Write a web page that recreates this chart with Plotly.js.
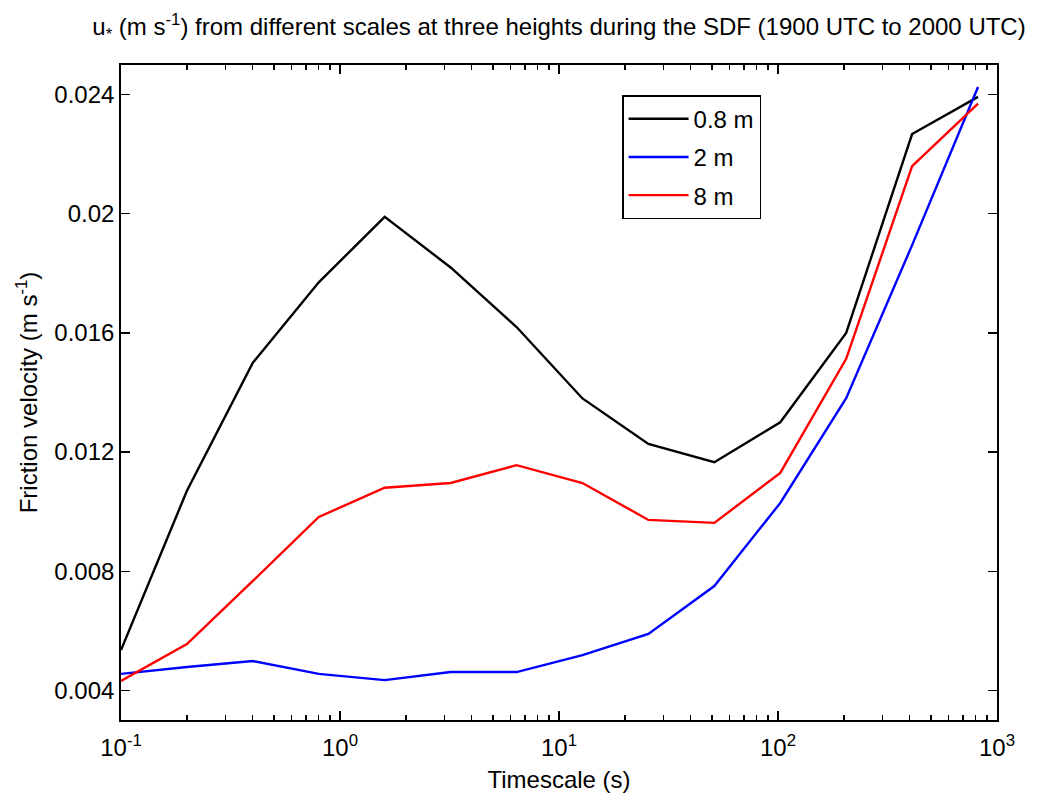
<!DOCTYPE html>
<html>
<head>
<meta charset="utf-8">
<script src="https://cdn.plot.ly/plotly-3.0.1.min.js"></script>
<style>html,body{margin:0;padding:0;background:#fff;}#chart{width:1038px;height:800px;}</style>
</head>
<body>
<div id="chart"></div>
<script>
// Timescales (s)
var timescale = [0.1, 0.2, 0.4, 0.8, 1.6, 3.2, 6.4, 12.8, 25.6, 51.2, 102.4, 204.8, 409.6, 819.2];
// Friction velocity (m s^-1) at three heights
var ustar_08m = [0.00535, 0.0107, 0.0150, 0.0177, 0.0199, 0.0182, 0.0162, 0.0138, 0.01227, 0.01166, 0.0130, 0.0160, 0.02268, 0.02393];
var ustar_2m  = [0.00455, 0.00478, 0.00498, 0.00455, 0.00434, 0.00461, 0.00461, 0.00518, 0.00589, 0.0075, 0.01029, 0.01381, 0.01895, 0.02426];
var ustar_8m  = [0.00431, 0.00555, 0.00767, 0.00982, 0.0108, 0.01096, 0.01156, 0.01096, 0.00972, 0.00962, 0.0113, 0.01513, 0.0216, 0.0237];
var seriesNames = ['0.8 m', '2 m', '8 m'];
var seriesColors = ['#000000', '#0000ff', '#ff0000'];
// Tick labels
var xTickVals = [0.1, 1, 10, 100, 1000];
var xTickText = ['10<sup>-1</sup>', '10<sup>0</sup>', '10<sup>1</sup>', '10<sup>2</sup>', '10<sup>3</sup>'];
var yTickVals = [0.004, 0.008, 0.012, 0.016, 0.02, 0.024];
var yTickText = ['0.004', '0.008', '0.012', '0.016', '0.02', '0.024'];

var minorVals = [];
[0.1, 1, 10, 100].forEach(function(d){ for (var k = 2; k <= 9; k++) minorVals.push(d * k); });

var seriesData = [ustar_08m, ustar_2m, ustar_8m];
var traces = seriesData.map(function(ys, i){
  return {x: timescale, y: ys, type: 'scatter', mode: 'lines', name: seriesNames[i],
          legendgroup: 'g' + i,
          line: {color: seriesColors[i], width: 2.4}};
});

var font = 'Liberation Sans, Arial, sans-serif';
var fs = 24;
var layout = {
  width: 1038, height: 800,
  margin: {l: 121, r: 41, t: 65, b: 80},
  paper_bgcolor: '#fff', plot_bgcolor: '#fff',
  font: {family: font, size: fs, color: '#000'},
  showlegend: true,
  title: {text: 'u<sub>*</sub> (m s<sup>-1</sup>) from different scales at three heights during the SDF (1900 UTC to 2000 UTC)',
          font: {family: font, size: fs, color: '#000'}, x: 0.5, xref: 'paper', xanchor: 'center', y: 0.967, yanchor: 'middle'},
  xaxis: {type: 'log', range: [-1, 3], tickmode: 'array', tickvals: xTickVals, ticktext: xTickText,
          ticks: 'inside', ticklen: 9, tickwidth: 1.2, tickcolor: '#000', ticklabelstandoff: 5,
          minor: {tickmode: 'array', tickvals: minorVals, ticks: 'inside', ticklen: 5, tickwidth: 1.2, tickcolor: '#000', showgrid: false},
          showline: true, linecolor: '#000', linewidth: 1.8, mirror: 'ticks', showgrid: false, zeroline: false,
          tickfont: {family: font, size: fs, color: '#000'},
          title: {text: 'Timescale (s)', font: {family: font, size: fs, color: '#000'}, standoff: 12}},
  yaxis: {range: [0.003, 0.025], tickmode: 'array', tickvals: yTickVals, ticktext: yTickText,
          ticks: 'inside', ticklen: 9, tickwidth: 1.2, tickcolor: '#000',
          showline: true, linecolor: '#000', linewidth: 1.8, mirror: 'ticks', showgrid: false, zeroline: false,
          tickfont: {family: font, size: fs, color: '#000'},
          title: {text: 'Friction velocity (m s<sup>-1</sup>)', font: {family: font, size: fs, color: '#000'}, standoff: 10}},
  legend: {x: 0.572, y: 0.954, xanchor: 'left', yanchor: 'top', bgcolor: '#fff', bordercolor: '#000', borderwidth: 1.5,
           font: {family: font, size: fs, color: '#000'}, itemwidth: 60, traceorder: 'grouped', tracegroupgap: 4}
};

Plotly.newPlot('chart', traces, layout, {displayModeBar: false, staticPlot: true});
</script>
</body>
</html>
